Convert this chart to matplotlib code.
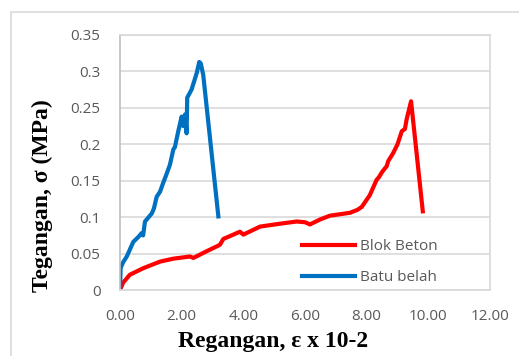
import matplotlib.pyplot as plt
from matplotlib.patches import Rectangle

# strain (x 10^-2) and stress (MPa)
beton_x = [0.0, 0.02, 0.10, 0.32, 0.76, 1.30, 1.73, 2.27, 2.38, 2.80, 3.24, 3.35,
           3.89, 4.00, 4.54, 5.19, 5.73, 6.00, 6.16, 6.50, 6.81, 7.46, 7.70, 7.84,
           8.10, 8.32, 8.40, 8.50, 8.65, 8.70, 8.86, 9.00, 9.14, 9.24, 9.30, 9.44, 9.82]
beton_y = [0.0, 0.002, 0.010, 0.021, 0.030, 0.039, 0.043, 0.046, 0.044, 0.053, 0.062, 0.070,
           0.080, 0.076, 0.087, 0.091, 0.094, 0.093, 0.090, 0.097, 0.102, 0.106, 0.110, 0.114,
           0.130, 0.151, 0.155, 0.162, 0.170, 0.177, 0.188, 0.200, 0.218, 0.221, 0.235, 0.259, 0.108]

batu_x = [0.0, 0.02, 0.10, 0.22, 0.43, 0.60, 0.70, 0.75, 0.81, 1.03, 1.10, 1.19, 1.30,
          1.40, 1.50, 1.62, 1.73, 1.78, 1.89, 2.00, 2.05, 2.11, 2.16, 2.18, 2.32, 2.49,
          2.57, 2.62, 2.70, 3.19]
batu_y = [0.0, 0.030, 0.038, 0.046, 0.066, 0.073, 0.078, 0.075, 0.094, 0.105, 0.112, 0.128, 0.135,
          0.147, 0.158, 0.172, 0.193, 0.196, 0.218, 0.238, 0.225, 0.241, 0.215, 0.264, 0.275, 0.298,
          0.313, 0.311, 0.295, 0.101]

xticks = [0, 2, 4, 6, 8, 10, 12]
yticks = [0, 0.05, 0.1, 0.15, 0.2, 0.25, 0.3, 0.35]
ytick_labels = ['0', '0.05', '0.1', '0.15', '0.2', '0.25', '0.3', '0.35']

fig = plt.figure(figsize=(5.19, 3.56), dpi=100)
ax = fig.add_axes([120/519, 1-290/356, 370/519, 255/356])

# outer chart frame (only top/left visible in the original)
fig.patches.append(Rectangle((11/519, -0.1), 1.2, 1-12/356+0.1, transform=fig.transFigure,
                             fill=False, edgecolor='#d9d9d9', lw=1.2))

ax.plot(beton_x, beton_y, color='#ff0000', lw=3, label='Blok Beton', solid_joinstyle='round')
ax.plot(batu_x, batu_y, color='#0070c0', lw=3, label='Batu belah', solid_joinstyle='round')

ax.set_xlim(0, 12)
ax.set_ylim(0, 0.35)
ax.set_xticks(xticks)
ax.set_xticklabels(['%.2f' % v for v in xticks])
ax.set_yticks(yticks)
ax.set_yticklabels(ytick_labels)
ax.tick_params(length=0, labelsize=11, labelcolor='#595959')
ax.tick_params(axis='x', pad=14)
ax.tick_params(axis='y', pad=14)
for lab in ax.get_xticklabels() + ax.get_yticklabels():
    lab.set_family('Open Sans')
ax.grid(axis='y', color='#d9d9d9', lw=1.2)
ax.set_axisbelow(True)
for s in ax.spines.values():
    s.set_color('#d9d9d9')
    s.set_linewidth(1.2)
ax.spines['left'].set_color('#bfbfbf')

ax.set_xlabel('Regangan, ε x 10-2', family='Liberation Serif', fontweight='bold', fontsize=17)
ax.set_ylabel('Tegangan, σ (MPa)', family='Liberation Serif', fontweight='bold', fontsize=17)
ax.xaxis.set_label_coords(0.414, -0.16)
ax.yaxis.set_label_coords(-0.18, 0.37)

leg = ax.legend(loc='lower right', bbox_to_anchor=(0.895, -0.035), frameon=False,
                handlelength=3.5, handletextpad=0.3, labelspacing=1.05,
                prop={'family': 'Open Sans', 'size': 11})
for t in leg.get_texts():
    t.set_color('#595959')

fig.savefig('out.png', dpi=100)
